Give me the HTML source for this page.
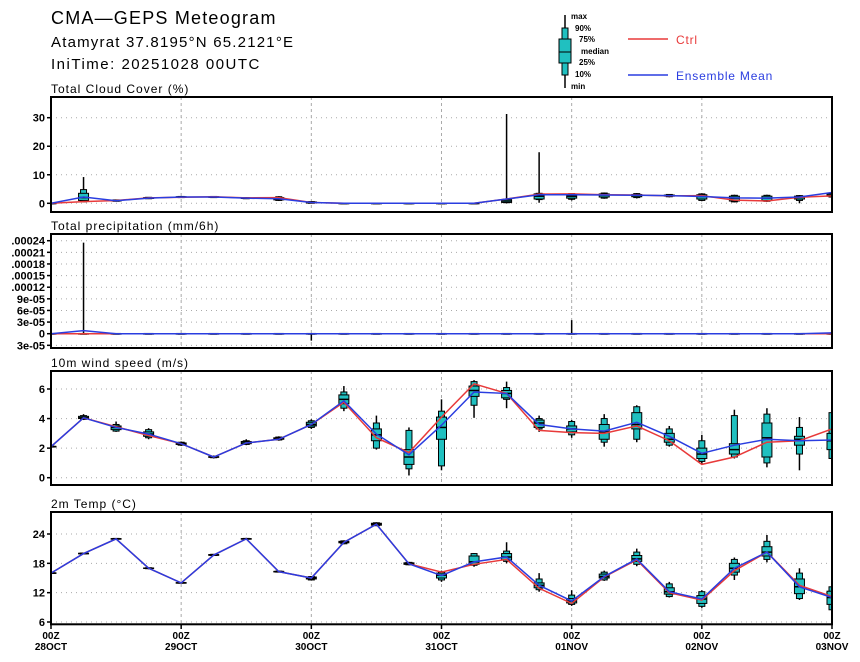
<!DOCTYPE html>
<html><head><meta charset="utf-8"><style>
html,body{margin:0;padding:0;background:#fff;width:860px;height:662px;overflow:hidden}
svg{display:block;font-family:"Liberation Sans","DejaVu Sans",sans-serif}
</style></head><body>
<svg id="chart" width="860" height="662"></svg>
<script>
const timeSteps = 25;
const dayLabels = ["28OCT","29OCT","30OCT","31OCT","01NOV","02NOV","03NOV"];
const cloudMean = [0,2.2,0.9,1.8,2.2,2.2,1.8,1.6,0.3,0,0,0,0,0,1.5,3,3,2.9,2.8,2.7,2.4,1.9,1.8,2.2,3.8];
const cloudCtrl = [0,0.6,1.0,1.9,2.1,2.3,1.9,2.0,0.3,0,0,0,0,0,1.5,3.2,3.3,3,2.9,2.6,2.7,1.1,0.8,2.1,2.6];
const cloudBox = [[0,0,0,0,0,0,0],[0.4,0.5,1.0,2.0,3.5,4.8,9.2],[0.6,0.7,0.8,0.9,1.1,1.2,1.3],[1.5,1.6,1.7,1.8,2.0,2.1,2.2],[1.9,2.0,2.1,2.2,2.3,2.4,2.5],[1.9,2.0,2.1,2.2,2.3,2.4,2.5],[1.5,1.6,1.7,1.8,1.9,2.0,2.1],[0.8,1.0,1.2,1.5,2.0,2.3,2.5],[0,0,0.1,0.3,0.5,0.6,0.7],[0,0,0,0,0,0,0],[0,0,0,0,0,0,0],[0,0,0,0,0,0,0],[0,0,0,0,0,0,0],[0,0,0,0,0,0,0],[0,0.2,0.3,0.8,1.3,1.5,31.3],[0.2,1.3,1.5,2.5,3.3,3.5,17.9],[1.0,1.4,1.8,2.5,3.0,3.4,3.5],[1.6,1.8,2.2,2.9,3.3,3.6,3.8],[1.7,2.0,2.3,2.8,3.1,3.4,3.6],[2.1,2.3,2.5,2.7,2.9,3.1,3.2],[0.8,1.0,1.5,2.4,3.0,3.3,3.5],[0.3,0.5,0.8,1.8,2.5,2.8,3.0],[0.5,0.7,1.0,1.8,2.5,2.8,3.0],[0,1.0,1.5,2.2,2.5,2.7,2.9],[2,2.2,2.5,2.8,3.3,3.6,3.8]];
const cloudTicks = [0,10,20,30];
const precMean = [0,8e-6,0,0,0,0,0,0,0,0,0,0,0,0,0,0,0,0,0,0,0,0,0,0,2e-6];
const precCtrl = [0,0,0,0,0,0,0,0,0,0,0,0,0,0,0,0,0,0,0,0,0,0,0,0,0];
const precMax = [0,0.000235,0,0,0,0,0,0,0,0,0,0,0,0,0,0,3.5e-5,0,0,0,0,0,0,0,0];
const precMin = [0,0,0,0,0,0,0,0,-1.8e-5,0,0,0,0,0,0,0,0,0,0,0,0,0,0,0,0];
const precTicks = [-3e-5,0,3e-5,6e-5,9e-5,0.00012,0.00015,0.00018,0.00021,0.00024];
const precTickLabels = ["3e-05","0","3e-05","6e-05","9e-05",".00012",".00015",".00018",".00021",".00024"];
const windMean = [2.1,4.05,3.4,2.95,2.3,1.4,2.35,2.6,3.6,5.2,2.95,1.55,3.55,5.8,5.7,3.6,3.3,3.15,3.75,2.8,1.65,2.2,2.6,2.5,2.55];
const windCtrl = [2.1,4.05,3.45,2.85,2.3,1.4,2.35,2.6,3.6,5.1,2.7,1.7,4.1,6.35,5.7,3.2,3.05,3.0,3.5,2.5,0.9,1.4,2.4,2.5,3.3];
const windBox = [[2.05,2.07,2.08,2.1,2.12,2.13,2.15],[3.9,3.95,4.0,4.05,4.15,4.2,4.3],[3.1,3.15,3.25,3.4,3.5,3.6,3.8],[2.6,2.7,2.8,2.95,3.1,3.25,3.35],[2.15,2.2,2.25,2.3,2.35,2.4,2.45],[1.3,1.35,1.38,1.4,1.42,1.45,1.5],[2.2,2.25,2.3,2.35,2.45,2.5,2.6],[2.5,2.55,2.6,2.65,2.7,2.75,2.8],[3.3,3.4,3.5,3.6,3.75,3.85,3.95],[4.5,4.7,5.0,5.3,5.6,5.8,6.2],[1.9,2.0,2.5,2.9,3.3,3.7,4.2],[0.15,0.6,0.9,1.4,1.9,3.2,3.4],[0.5,0.8,2.6,3.4,4.1,4.5,5.3],[4.05,4.9,5.5,5.9,6.2,6.5,6.6],[4.7,5.3,5.4,5.7,5.9,6.1,6.5],[3.1,3.3,3.4,3.7,3.9,4.0,4.2],[2.7,2.9,3.1,3.3,3.5,3.8,3.9],[2.1,2.4,2.6,3.1,3.6,4.0,4.3],[2.4,2.6,3.3,3.6,4.4,4.8,4.9],[2.1,2.2,2.4,2.6,3.0,3.3,3.5],[0.9,1.1,1.3,1.6,2.0,2.5,2.9],[1.3,1.4,1.6,1.9,2.3,4.2,4.6],[0.7,1.0,1.4,2.7,3.7,4.3,4.7],[0.5,1.6,2.2,2.6,2.8,3.4,4.1],[1.3,1.3,1.9,2.5,3.0,4.4,4.5]];
const windTicks = [0,2,4,6];
const tempMean = [16,20,23,17,14,19.7,23,16.3,15,22.3,26,17.9,15.5,18.3,19.3,13.5,10.3,15.3,18.9,12.2,10.7,17,20.3,13.2,11.0];
const tempCtrl = [16,20,23,17,14,19.7,23,16.3,15,22.3,26,17.9,16.2,17.8,18.8,12.9,9.8,15.2,18.7,12.0,10.5,16.5,20.3,13.5,11.2];
const tempBox = [[15.9,15.95,16,16,16.05,16.1,16.1],[19.9,19.95,20,20,20.05,20.1,20.1],[22.9,22.95,23,23,23.05,23.1,23.1],[16.8,16.9,16.95,17,17.05,17.1,17.2],[13.9,13.95,14,14,14.05,14.1,14.1],[19.5,19.6,19.65,19.7,19.8,19.85,19.9],[22.9,22.95,23,23,23.05,23.1,23.2],[16.1,16.2,16.25,16.3,16.35,16.4,16.5],[14.5,14.6,14.8,15,15.2,15.3,15.4],[21.9,22.0,22.2,22.3,22.5,22.6,22.7],[25.6,25.7,25.8,26,26.2,26.3,26.4],[17.6,17.7,17.8,17.9,18.1,18.2,18.3],[14.2,14.6,15,15.6,16,16.3,16.5],[17.3,17.6,17.8,18.3,19.5,20.0,20.1],[18.0,18.4,18.7,19.3,20,20.5,22.3],[12.2,12.6,13,13.5,14,14.8,16],[9.3,9.6,9.9,10.3,10.8,11.5,12.5],[14.4,14.6,15,15.3,15.8,16.2,16.5],[17.4,17.8,18.4,18.9,19.6,20.3,21],[11,11.2,11.7,12.2,13,13.8,14.2],[8.9,9.2,9.8,10.7,11.4,12.2,12.5],[14.6,15.6,16.2,17,18,18.8,19.2],[18.2,18.8,19.5,20.3,21.4,22.5,23.8],[10.5,10.8,11.8,13.2,14.8,16,17],[8.5,8.5,9.6,11,12.3,13.2,13.5]];
const tempTicks = [6,12,18,24];

const NS="http://www.w3.org/2000/svg";
const svg=document.getElementById('chart');
const X0=51,X1=832;
function xPos(i){return X0+(X1-X0)*i/(timeSteps-1);}
function mk(tag,attrs,parent){const e=document.createElementNS(NS,tag);for(const k in attrs)e.setAttribute(k,attrs[k]);(parent||svg).appendChild(e);return e;}
function txt(s,attrs,parent){const e=mk('text',attrs,parent);e.textContent=s;return e;}

let t;
t=txt("CMA\u2014GEPS Meteogram",{x:51,y:24,'font-size':18,'letter-spacing':1.2});


t=txt("Atamyrat 37.8195°N 65.2121°E",{x:51,y:47,'font-size':15,'letter-spacing':1.2});


t=txt("IniTime: 20251028 00UTC",{x:51,y:69,'font-size':15,'letter-spacing':1.5});



const lg=mk('g',{});


mk('line',{x1:565,y1:15,x2:565,y2:88,stroke:'#000','stroke-width':1.5},lg);
mk('rect',{x:562,y:28,width:6,height:47,fill:'#20c0c0',stroke:'#000','stroke-width':1},lg);
mk('rect',{x:559,y:39,width:12,height:24,fill:'#20c0c0',stroke:'#000','stroke-width':1},lg);
mk('line',{x1:559,y1:52,x2:571,y2:52,stroke:'#000','stroke-width':1},lg);
[["max",571,19],["90%",575,31],["75%",579,42],["median",581,54],["25%",579,65],["10%",575,77],["min",571,89]].forEach(a=>txt(a[0],{x:a[1],y:a[2],'font-size':8,'font-weight':'bold'},lg));
mk('line',{x1:628,y1:39,x2:668,y2:39,stroke:'#e83a3a','stroke-width':1.5},lg);
txt("Ctrl",{x:676,y:44,'font-size':12,fill:'#e83a3a','letter-spacing':0.8},lg);
mk('line',{x1:628,y1:75,x2:668,y2:75,stroke:'#2a3de0','stroke-width':1.5},lg);
txt("Ensemble Mean",{x:676,y:80,'font-size':12,fill:'#2a3de0','letter-spacing':0.8},lg);

function panel(cfg){
  const g=mk('g',{});
  
  
  const yv=v=>cfg.y0+(v-cfg.v0)*(cfg.y1-cfg.y0)/(cfg.v1-cfg.v0);
  txt(cfg.title,{x:51,y:cfg.top-4,'font-size':12,'letter-spacing':1},g);
  const cid='clip-'+cfg.name;
  const cp=mk('clipPath',{id:cid},g); mk('rect',{x:X0,y:cfg.top,width:X1-X0,height:cfg.bot-cfg.top},cp);
  cfg.ticks.forEach((v,k)=>{
    const y=yv(v);
    mk('line',{x1:X0,y1:y,x2:X1,y2:y,stroke:'#aaa','stroke-width':1,'stroke-dasharray':'1,4'},g);
    mk('line',{x1:X0-4,y1:y,x2:X0,y2:y,stroke:'#000','stroke-width':1.5},g);
    txt(cfg.labels?cfg.labels[k]:String(v),{x:X0-6,y:y+4,'font-size':11,'font-weight':'bold','text-anchor':'end'},g);
  });
  for(let d=1;d<dayLabels.length-1;d++){const x=xPos(d*4);mk('line',{x1:x,y1:cfg.top,x2:x,y2:cfg.bot,stroke:'#aaa','stroke-width':1,'stroke-dasharray':'3,3'},g);}
  const inner=mk('g',{'clip-path':'url(#'+cid+')'},g);
  for(let i=0;i<timeSteps;i++){
    const b=cfg.box(i); const x=xPos(i);
    const bg=mk('g',{},inner);
    
    
    mk('line',{x1:x,y1:yv(b[0]),x2:x,y2:yv(b[6]),stroke:'#000','stroke-width':1.5},bg);
    mk('rect',{x:x-3,y:yv(b[5]),width:6,height:Math.max(0.5,yv(b[1])-yv(b[5])),fill:'#20c0c0',stroke:'#000','stroke-width':1},bg);
    mk('rect',{x:x-5,y:yv(b[4]),width:10,height:Math.max(0.5,yv(b[2])-yv(b[4])),fill:'#20c0c0',stroke:'#000','stroke-width':1},bg);
    mk('line',{x1:x-5,y1:yv(b[3]),x2:x+5,y2:yv(b[3]),stroke:'#000','stroke-width':1.5},bg);
  }
  const pr=mk('polyline',{points:cfg.ctrl.map((v,i)=>xPos(i)+','+yv(v)).join(' '),fill:'none',stroke:'#e83a3a','stroke-width':1.5},inner);
  
  
  const pb=mk('polyline',{points:cfg.mean.map((v,i)=>xPos(i)+','+yv(v)).join(' '),fill:'none',stroke:'#2a3de0','stroke-width':1.5},inner);
  
  
  mk('rect',{x:X0,y:cfg.top,width:X1-X0,height:cfg.bot-cfg.top,fill:'none',stroke:'#000','stroke-width':2},g);
}
panel({name:'cloud-panel',title:'Total Cloud Cover (%)',top:97,bot:212,v0:0,y0:203.3,v1:30,y1:117.7,ticks:cloudTicks,mean:cloudMean,ctrl:cloudCtrl,box:i=>cloudBox[i]});
panel({name:'precip-panel',title:'Total precipitation (mm/6h)',top:234,bot:348,v0:0,y0:333.7,v1:0.00024,y1:240.7,ticks:precTicks,labels:precTickLabels,mean:precMean,ctrl:precCtrl,box:i=>[precMin[i],0,0,0,0,0,precMax[i]]});
panel({name:'wind-panel',title:'10m wind speed (m/s)',top:371,bot:485,v0:0,y0:477.7,v1:6,y1:389,ticks:windTicks,mean:windMean,ctrl:windCtrl,box:i=>windBox[i]});
panel({name:'temp-panel',title:'2m Temp (°C)',top:512,bot:624.3,v0:6,y0:622,v1:24,y1:534,ticks:tempTicks,mean:tempMean,ctrl:tempCtrl,box:i=>tempBox[i]});

dayLabels.forEach((d,k)=>{
  const x=xPos(k*4);
  mk('line',{x1:x,y1:624,x2:x,y2:629,stroke:'#000','stroke-width':1.5});
  const a=txt("00Z",{x:x,y:639,'font-size':10,'font-weight':'bold','text-anchor':'middle'});
  
  
  const b=txt(d,{x:x,y:650,'font-size':10,'font-weight':'bold','text-anchor':'middle'});
  
  
});
</script>
</body></html>
